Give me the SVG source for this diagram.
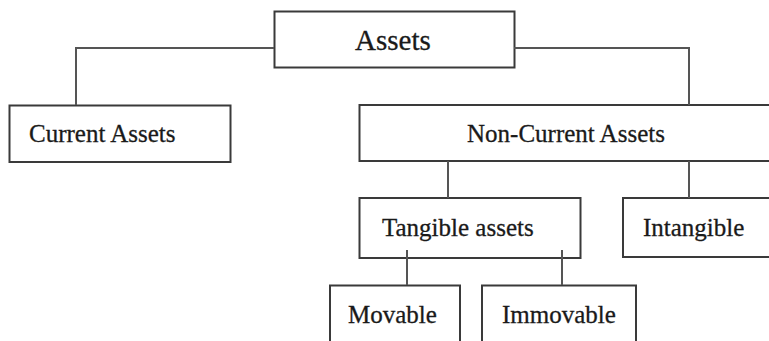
<svg xmlns="http://www.w3.org/2000/svg" width="769" height="341" viewBox="0 0 769 341">
<style>
.box{fill:#fff;stroke:#3a3a3a;stroke-width:2}
.lbl{font-family:"Liberation Serif","Times New Roman",serif;font-size:25px;fill:#1a1a1a;stroke:#1a1a1a;stroke-width:0.3}
.conn{fill:none;stroke:#555;stroke-width:2}
</style>
<rect width="769" height="341" fill="#fff"/>
<g id="assets">
<rect class="box" x="274.5" y="11.5" width="240" height="56"/>
<text class="lbl" x="355" y="49.5" style="font-size:29px">Assets</text>
</g>
<g id="current-assets">
<rect class="box" x="9.5" y="105.5" width="221" height="56.5"/>
<text class="lbl" x="29" y="142">Current Assets</text>
</g>
<g id="non-current-assets">
<rect class="box" x="359.5" y="105" width="420" height="56"/>
<text class="lbl" x="467" y="142">Non-Current Assets</text>
</g>
<g id="tangible-assets">
<rect class="box" x="359.5" y="198" width="221" height="60"/>
<text class="lbl" x="382" y="236">Tangible assets</text>
</g>
<g id="intangible">
<rect class="box" x="623" y="198" width="160" height="59"/>
<text class="lbl" x="643" y="235.5">Intangible</text>
</g>
<g id="movable">
<rect class="box" x="330" y="285.5" width="130" height="80"/>
<text class="lbl" x="348" y="323">Movable</text>
</g>
<g id="immovable">
<rect class="box" x="482" y="285.5" width="154" height="80"/>
<text class="lbl" x="502" y="323">Immovable</text>
</g>
<g id="connectors">
<path class="conn" d="M274 48 H76 V105"/>
<path class="conn" d="M514 48 H689 V105"/>
<path class="conn" d="M448 161 V198"/>
<path class="conn" d="M689 161 V198"/>
<path class="conn" d="M407 250 V285"/>
<path class="conn" d="M562 250 V285"/>
</g>
</svg>
